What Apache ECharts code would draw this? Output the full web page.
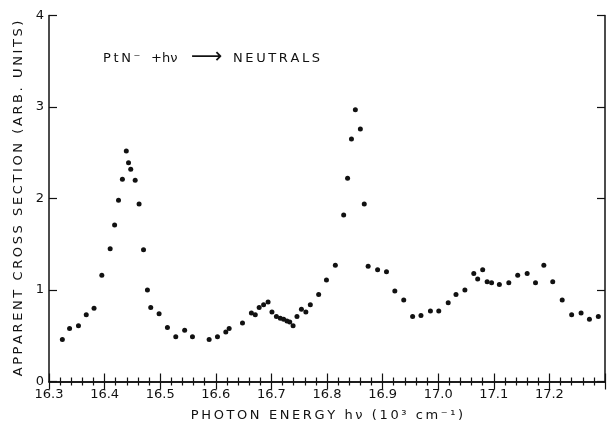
<!DOCTYPE html>
<html>
<head>
<meta charset="utf-8">
<script src="https://cdn.jsdelivr.net/npm/echarts@6/dist/echarts.min.js"></script>
<style>
  html, body { margin: 0; padding: 0; background: #fff; }
  #chart { width: 608px; height: 431px; }
</style>
</head>
<body>
<div id="chart"></div>
<script>
// photon energy (10^3 cm^-1) and apparent cross section
const energy = [
  16.324, 16.337, 16.353, 16.367, 16.381, 16.395, 16.410, 16.418, 16.425, 16.432,
  16.439, 16.443, 16.447, 16.455, 16.462, 16.470, 16.477, 16.483, 16.498, 16.513,
  16.528, 16.544, 16.558, 16.588, 16.603, 16.618, 16.624, 16.648, 16.664, 16.671,
  16.678, 16.686, 16.694, 16.701, 16.709, 16.716, 16.722, 16.728, 16.733, 16.739,
  16.746, 16.754, 16.762, 16.770, 16.785, 16.799, 16.815, 16.830, 16.837, 16.844,
  16.851, 16.860, 16.867, 16.874, 16.891, 16.907, 16.922, 16.938, 16.954, 16.969,
  16.986, 17.001, 17.018, 17.032, 17.048, 17.064, 17.071, 17.080, 17.088, 17.096,
  17.110, 17.127, 17.143, 17.160, 17.175, 17.190, 17.206, 17.223, 17.240, 17.257,
  17.272, 17.288
];
const crossSection = [
  0.46, 0.58, 0.61, 0.73, 0.80, 1.16, 1.45, 1.71, 1.98, 2.21,
  2.52, 2.39, 2.32, 2.20, 1.94, 1.44, 1.00, 0.81, 0.74, 0.59,
  0.49, 0.56, 0.49, 0.46, 0.49, 0.54, 0.58, 0.64, 0.75, 0.73,
  0.81, 0.84, 0.87, 0.76, 0.71, 0.69, 0.68, 0.66, 0.65, 0.61,
  0.71, 0.79, 0.76, 0.84, 0.95, 1.11, 1.27, 1.82, 2.22, 2.65,
  2.97, 2.76, 1.94, 1.26, 1.22, 1.20, 0.99, 0.89, 0.71, 0.72,
  0.77, 0.77, 0.86, 0.95, 1.00, 1.18, 1.12, 1.22, 1.09, 1.08,
  1.06, 1.08, 1.16, 1.18, 1.08, 1.27, 1.09, 0.89, 0.73, 0.75,
  0.68, 0.71
];
const xTitle = 'PHOTON ENERGY h\u03BD (10\u00B3 cm\u207B\u00B9)';
const yTitle = 'APPARENT CROSS SECTION (ARB. UNITS)';

const font = 'DejaVu Sans';
const ink = '#111';

// old lettering-guide text is widely spaced, pad letters with thin spaces
const spaced = s => Array.from(s).join('\u2009');

const points = energy.map((e, i) => [e, crossSection[i]]);

const tickBits = {
  axisLine: { show: true, lineStyle: { color: ink, width: 1.5 } },
  axisTick: { show: true, inside: true, length: 8, lineStyle: { color: ink, width: 1.2 } },
  splitLine: { show: false }
};
const minor = { show: true, splitNumber: 5, length: 4, lineStyle: { color: ink, width: 1.2 } };

const chart = echarts.init(document.getElementById('chart'));
chart.setOption({
  backgroundColor: '#fff',
  animation: false,
  grid: { left: 49, right: 1, top: 15.5, bottom: 49.5 },
  xAxis: [
    {
      type: 'value', min: 16.3, max: 17.3, interval: 0.1,
      ...tickBits,
      minorTick: minor,
      axisLabel: {
        fontFamily: font, fontSize: 13, color: ink, margin: 7,
        formatter: v => (Math.abs(v - 17.3) < 1e-6 ? '' : v.toFixed(1))
      },
      name: spaced(xTitle), nameLocation: 'middle', nameGap: 28,
      nameTextStyle: { fontFamily: font, fontSize: 13, color: ink }
    },
    {
      type: 'value', position: 'top', min: 16.3, max: 17.3, interval: 0.1,
      ...tickBits,
      minorTick: minor,
      axisLabel: { show: false }
    }
  ],
  yAxis: [
    {
      type: 'value', min: 0, max: 4, interval: 1,
      ...tickBits,
      axisLabel: { fontFamily: font, fontSize: 13, color: ink, margin: 5 },
      name: spaced(yTitle), nameLocation: 'middle', nameGap: 22, nameRotate: 90,
      nameTextStyle: { fontFamily: font, fontSize: 13, color: ink }
    },
    {
      type: 'value', position: 'right', min: 0, max: 4, interval: 1,
      ...tickBits,
      axisLabel: { show: false }
    }
  ],
  graphic: [
    { type: 'text', left: 103, top: 52, style: { text: spaced('PtN\u207B'), font: '13px "DejaVu Sans"', fill: ink } },
    { type: 'text', left: 151, top: 52, style: { text: '+h\u03BD', font: '13px "DejaVu Sans"', fill: ink } },
    { type: 'text', left: 191, top: 46, style: { text: '\u27F6', font: '22px "DejaVu Sans"', fill: ink } },
    { type: 'text', left: 233, top: 52, style: { text: spaced('NEUTRALS'), font: '13px "DejaVu Sans"', fill: ink } }
  ],
  series: [
    {
      type: 'scatter',
      data: points,
      symbol: 'circle',
      symbolSize: 5,
      itemStyle: { color: ink, opacity: 1 }
    }
  ]
});
</script>
</body>
</html>
